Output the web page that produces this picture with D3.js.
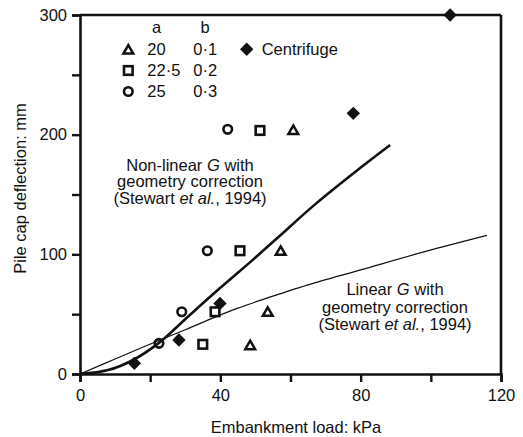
<!DOCTYPE html>
<html><head><meta charset="utf-8">
<script src="https://cdn.jsdelivr.net/npm/d3@7"></script>
<style>
html,body{margin:0;padding:0;background:#fff;}
text{font-family:"Liberation Sans",Arial,Helvetica,sans-serif;fill:#111;}
</style></head>
<body><svg id="c" width="523" height="437"></svg>
<script>
// ---- data ----
const xTicks = [0, 20, 40, 60, 80, 100, 120];
const xTickLabels = [0, 40, 80, 120];
const yTicks = [0, 50, 100, 150, 200, 250, 300];
const yTickLabels = [0, 100, 200, 300];

const triLoad = [48.5, 53.5, 57.2, 60.8];
const triDefl = [24.2, 52, 103, 204];
const sqLoad = [35, 38.5, 45.6, 51.3];
const sqDefl = [24.8, 52, 103, 203.5];
const cirLoad = [22.5, 29, 36.3, 42.1];
const cirDefl = [25.6, 52, 103, 204.5];
const cenLoad = [15.5, 28.2, 39.9, 77.9, 105.5];
const cenDefl = [8.9, 28.4, 59, 217.8, 300];

const nonlinLoad = [0, 8, 15, 22.5, 31, 40, 49.5, 56, 67.5, 80, 88.4];
const nonlinDefl = [0, 3.3, 11.5, 26, 48.5, 72, 96, 113, 143, 172.5, 191.4];
const linLoad = [0, 11, 22.8, 30, 38.5, 45, 51.3, 57, 65, 80, 98, 116];
const linDefl = [0, 13.8, 28.4, 37, 47.5, 55, 61.5, 67, 74.5, 87, 102, 115.8];

const legendA = ["20", "22·5", "25"];
const legendB = ["0·1", "0·2", "0·3"];
const legendShapes = ["tri", "sq", "cir"];

// ---- drawing ----
const svg = d3.select("#c");
const L = 80, R = 501, T = 15, B = 374;
const x = d3.scaleLinear().domain([0, 120]).range([L, R]);
const y = d3.scaleLinear().domain([0, 300]).range([B, T]);
const FS = "16.5px";

function shape(g, kind, cx, cy) {
  if (kind === "tri") {
    g.append("path").attr("d", `M${cx},${cy-4.3}L${cx+4.9},${cy+4.1}L${cx-4.9},${cy+4.1}Z`)
      .attr("fill", "none").attr("stroke", "#111").attr("stroke-width", 2.5).attr("stroke-linejoin", "miter");
  } else if (kind === "sq") {
    g.append("rect").attr("x", cx-4.3).attr("y", cy-4.3).attr("width", 8.6).attr("height", 8.6)
      .attr("fill", "none").attr("stroke", "#111").attr("stroke-width", 2.6);
  } else if (kind === "cir") {
    g.append("circle").attr("cx", cx).attr("cy", cy).attr("r", 4.3)
      .attr("fill", "none").attr("stroke", "#111").attr("stroke-width", 2.6);
  } else if (kind === "dia") {
    const s = 6.7;
    g.append("path").attr("d", `M${cx},${cy-s}L${cx+s},${cy}L${cx},${cy+s}L${cx-s},${cy}Z`).attr("fill", "#111");
  }
}

// frame top & right
svg.append("line").attr("x1", L).attr("x2", R).attr("y1", T).attr("y2", T).attr("stroke", "#111").attr("stroke-width", 2.6);
svg.append("line").attr("x1", R).attr("x2", R).attr("y1", T).attr("y2", B).attr("stroke", "#111").attr("stroke-width", 2.6);

// axes
const xAxis = d3.axisBottom(x).tickValues(xTicks).tickSize(8).tickPadding(7)
  .tickFormat(d => xTickLabels.includes(d) ? String(d) : "");
const yAxis = d3.axisLeft(y).tickValues(yTicks).tickSize(8).tickPadding(5)
  .tickFormat(d => yTickLabels.includes(d) ? String(d) : "");
const gx = svg.append("g").attr("transform", `translate(0,${B})`).call(xAxis);
const gy = svg.append("g").attr("transform", `translate(${L},0)`).call(yAxis);
[gx, gy].forEach(g => {
  g.select(".domain").attr("stroke", "#111").attr("stroke-width", 2.6);
  g.selectAll(".tick line").attr("stroke", "#111").attr("stroke-width", 2.4);
  g.selectAll(".tick text").style("font-size", FS).attr("fill", "#111")
    .style("font-family", '"Liberation Sans",Arial,sans-serif');
});

// axis titles
svg.append("text").attr("x", 296).attr("y", 433).attr("text-anchor", "middle").style("font-size", FS)
  .text("Embankment load: kPa");
svg.append("text").attr("transform", "translate(26,188.5) rotate(-90)").attr("text-anchor", "middle").style("font-size", FS)
  .text("Pile cap deflection: mm");

// curves
const line = d3.line().x(d => x(d[0])).y(d => y(d[1])).curve(d3.curveCatmullRom.alpha(0.5));
svg.append("path").datum(linLoad.map((v, i) => [v, linDefl[i]])).attr("d", line)
  .attr("fill", "none").attr("stroke", "#111").attr("stroke-width", 1.2);
svg.append("path").datum(nonlinLoad.map((v, i) => [v, nonlinDefl[i]])).attr("d", line)
  .attr("fill", "none").attr("stroke", "#111").attr("stroke-width", 2.6);

// points
const pts = svg.append("g");
triLoad.forEach((v, i) => shape(pts, "tri", x(v), y(triDefl[i])));
sqLoad.forEach((v, i) => shape(pts, "sq", x(v), y(sqDefl[i])));
cirLoad.forEach((v, i) => shape(pts, "cir", x(v), y(cirDefl[i])));
cenLoad.forEach((v, i) => shape(pts, "dia", x(v), y(cenDefl[i])));

// legend
const lg = svg.append("g");
lg.append("text").attr("x", 156.7).attr("y", 33.3).attr("text-anchor", "middle").style("font-size", FS).text("a");
lg.append("text").attr("x", 205).attr("y", 33.3).attr("text-anchor", "middle").style("font-size", FS).text("b");
const rowY = [55, 76, 97];
legendShapes.forEach((s, i) => {
  shape(lg, s, 128.3, rowY[i] - 5.5);
  lg.append("text").attr("x", 147.3).attr("y", rowY[i]).style("font-size", FS).text(legendA[i]);
  lg.append("text").attr("x", 193.3).attr("y", rowY[i]).style("font-size", FS).text(legendB[i]);
});
shape(lg, "dia", 246.7, 49.3);
lg.append("text").attr("x", 261.7).attr("y", 55).style("font-size", FS).text("Centrifuge");

// annotations
function label(cx, ys, first) {
  const t1 = svg.append("text").attr("x", cx).attr("y", ys[0]).attr("text-anchor", "middle").style("font-size", FS);
  t1.append("tspan").text(first + " ");
  t1.append("tspan").style("font-style", "italic").text("G");
  t1.append("tspan").text(" with");
  svg.append("text").attr("x", cx).attr("y", ys[1]).attr("text-anchor", "middle").style("font-size", FS).text("geometry correction");
  const t3 = svg.append("text").attr("x", cx).attr("y", ys[2]).attr("text-anchor", "middle").style("font-size", FS);
  t3.append("tspan").text("(Stewart ");
  t3.append("tspan").style("font-style", "italic").text("et al.");
  t3.append("tspan").text(", 1994)");
}
label(190, [170.7, 187.3, 204], "Non-linear");
label(395, [295, 312.5, 330], "Linear");
</script></body></html>
